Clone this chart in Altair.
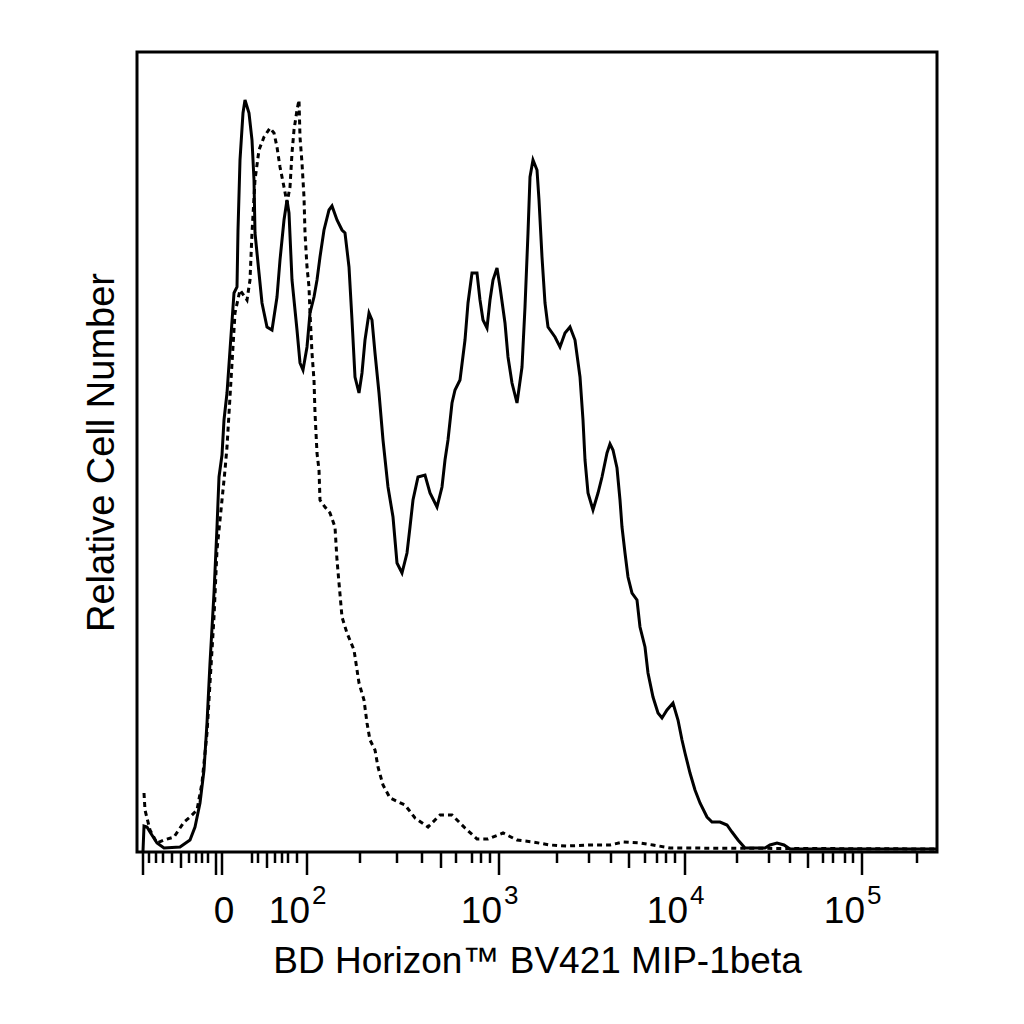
import pandas as pd
import altair as alt

#display channel (0-800 across the axis) and relative count (0-800)
stained_x = [6, 7, 10, 13, 20, 27, 43, 53, 58, 63, 67, 70, 73, 77, 80, 82, 85, 87, 90, 93,
             97, 100, 101, 103, 106, 108, 112, 115, 117, 118, 122, 125, 130, 135, 140, 143, 147, 150, 152, 155,
             160, 163, 166, 170, 173, 177, 180, 183, 187, 192, 195, 200, 205, 208, 212, 215, 218, 222, 225, 228,
             232, 235, 238, 242, 246, 251, 256, 260, 265, 270, 273, 276, 281, 288, 293, 300, 305, 308, 311, 315,
             318, 323, 328, 331, 335, 340, 343, 346, 350, 353, 356, 360, 363, 368, 371, 375, 380, 385, 388, 391,
             393, 396, 400, 402, 405, 408, 411, 418, 423, 428, 433, 438, 443, 446, 448, 451, 456, 461, 465, 470,
             473, 476, 480, 483, 485, 488, 491, 495, 500, 503, 508, 511, 516, 521, 525, 530, 536, 541, 545, 548,
             553, 558, 563, 570, 575, 583, 590, 595, 601, 608, 628, 633, 640, 647, 653, 800]
stained_y = [1, 26, 25, 20, 9, 4, 5, 12, 25, 49, 82, 129, 189, 259, 325, 375, 397, 432, 459, 502,
             559, 565, 622, 692, 739, 752, 739, 712, 672, 619, 579, 549, 525, 522, 555, 592, 632, 652, 639, 572,
             522, 489, 482, 505, 539, 555, 572, 595, 622, 642, 646, 632, 622, 619, 585, 532, 475, 459, 479, 512,
             539, 532, 499, 459, 412, 365, 335, 289, 279, 299, 325, 352, 375, 377, 359, 345, 365, 392, 412, 449,
             462, 472, 512, 549, 579, 579, 552, 532, 524, 552, 572, 584, 565, 529, 495, 469, 449, 485, 545, 619,
             675, 692, 682, 652, 595, 549, 525, 515, 505, 519, 525, 512, 475, 432, 392, 359, 342, 359, 375, 399,
             408, 402, 384, 352, 325, 299, 275, 259, 252, 225, 205, 179, 155, 139, 134, 142, 149, 132, 112, 99,
             79, 62, 49, 35, 30, 30, 27, 20, 12, 4, 4, 7, 9, 7, 3, 3]

control_x = [7, 8, 13, 20, 27, 37, 47, 53, 60, 65, 70, 73, 77, 80, 85, 88, 90, 98, 103, 110,
             113, 115, 118, 122, 127, 133, 137, 140, 143, 147, 150, 153, 155, 157, 160, 162, 163, 165, 167, 168,
             170, 172, 173, 175, 177, 178, 180, 182, 183, 188, 193, 198, 200, 202, 205, 210, 217, 222, 227, 230,
             233, 238, 241, 246, 253, 268, 278, 291, 303, 315, 328, 340, 351, 366, 380, 396, 413, 430, 453, 473,
             486, 503, 516, 533, 800]
control_y = [59, 42, 22, 9, 12, 15, 30, 35, 42, 69, 119, 169, 235, 302, 352, 382, 405, 539, 562, 552,
             572, 619, 672, 702, 715, 724, 719, 705, 685, 665, 649, 665, 699, 722, 742, 752, 715, 689, 655, 619,
             585, 565, 539, 499, 472, 439, 399, 382, 352, 345, 339, 325, 292, 269, 235, 219, 202, 169, 152, 129,
             112, 102, 85, 67, 54, 47, 34, 25, 37, 37, 24, 13, 13, 19, 12, 10, 7, 6, 7, 7,
             10, 9, 7, 4, 3]

#axis ticks on the biexponential display
major_ticks = [6, 79, 85, 170, 362, 548, 725]
medium_ticks = [44, 130, 304, 492, 671]
minor_ticks = [12, 19, 26, 35, 52, 59, 65, 71,
               115, 121, 138, 145, 151, 160,
               223, 260, 285, 319, 335, 344, 353,
               420, 452, 474, 508, 520, 529, 538,
               600, 632, 653, 686, 696, 708, 716, 780]
zero_label = [85]
decade_pos = [170, 362, 548, 725]
decade_exp = ["2", "3", "4", "5"]

font = "Liberation Sans"

stained_df = pd.DataFrame({"x": stained_x, "y": stained_y, "i": range(len(stained_x))})
control_df = pd.DataFrame({"x": control_x, "y": control_y, "i": range(len(control_x))})

x_enc = alt.X("x:Q", scale=alt.Scale(domain=[0, 800], nice=False, zero=False),
              axis=alt.Axis(labels=False, ticks=False, tickSize=0, domain=False, grid=False,
                            title="BD Horizon™ BV421 MIP-1beta", titleY=120,
                            titleBaseline="alphabetic", titleFont=font, titleFontSize=37,
                            titleFontWeight="normal", titleColor="black"))
y_enc = alt.Y("y:Q", scale=alt.Scale(domain=[0, 800], nice=False),
              axis=alt.Axis(labels=False, ticks=False, tickSize=0, domain=False, grid=False,
                            title="Relative Cell Number", titleX=-24,
                            titleBaseline="alphabetic", titleFont=font, titleFontSize=38,
                            titleFontWeight="normal", titleColor="black"))

#histograms
stained_line = alt.Chart(stained_df).mark_line(color="black", strokeWidth=3).encode(
    x_enc, y_enc, order="i:Q"
)
control_line = alt.Chart(control_df).mark_line(color="black", strokeWidth=3, strokeDash=[5, 4]).encode(
    x_enc, y_enc, order="i:Q"
)

#tick marks of three lengths below the frame
def tick_layer(values, length):
    return alt.Chart(pd.DataFrame({"x": values})).mark_rule(color="black", strokeWidth=2.5).encode(
        x_enc, y=alt.value(800), y2=alt.value(800 + length)
    )

ticks = tick_layer(major_ticks, 23) + tick_layer(medium_ticks, 16) + tick_layer(minor_ticks, 11)

#tick labels, "10" with a raised exponent
zero_text = alt.Chart(pd.DataFrame({"x": zero_label, "t": ["0"]})).mark_text(
    font=font, fontSize=37, color="black", align="center", baseline="alphabetic", dx=2
).encode(x_enc, y=alt.value(871), text="t:N")

decades_df = pd.DataFrame({"x": decade_pos, "base": ["10"] * len(decade_pos), "exp": decade_exp})
base_text = alt.Chart(decades_df).mark_text(
    font=font, fontSize=37, color="black", align="right", baseline="alphabetic", dx=3
).encode(x_enc, y=alt.value(871), text="base:N")
exp_text = alt.Chart(decades_df).mark_text(
    font=font, fontSize=26, color="black", align="left", baseline="alphabetic", dx=5
).encode(x_enc, y=alt.value(852), text="exp:N")

chart = (stained_line + control_line + ticks + zero_text + base_text + exp_text).properties(
    width=800, height=800,
    background="white",
    autosize=alt.AutoSizeParams(type="none"),
    padding={"left": 129, "top": 44, "right": 79, "bottom": 150}
).configure_view(stroke="black", strokeWidth=3)

chart.save("out.html", embed_options={"renderer": "svg", "actions": False})
